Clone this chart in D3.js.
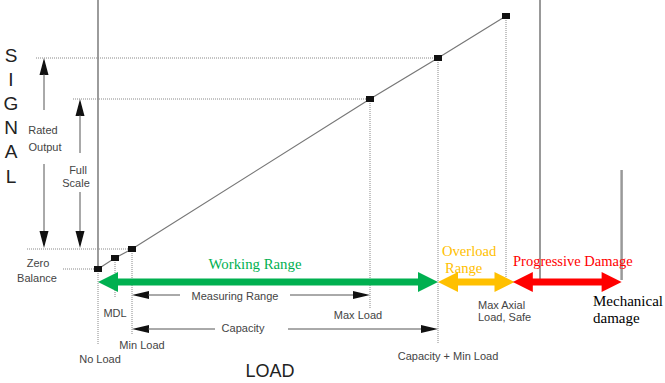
<!DOCTYPE html>
<html><head><meta charset="utf-8">
<script src="https://cdn.jsdelivr.net/npm/d3@7"></script>
<style>body{margin:0;background:#fff}svg{display:block}</style>
</head><body>
<svg id="c" width="665" height="383"></svg>
<script>
// ---- data ----
const loadLabels = ["No Load", "MDL", "Min Load", "Max Load", "Capacity + Min Load", "Max Axial Load, Safe"];
const loadValues = [0, 0.05, 0.1, 0.8, 1.0, 1.2];
const signalValues = [0, 0.55, 1.0, 8.5, 10.55, 12.65];
const ultimateLoad = 1.3;
const damageLoad = 1.54;
const rangeNames = ["Working Range", "Overload Range", "Progressive Damage"];
const rangeStarts = [0, 1.0, 1.22];
const rangeEnds = [1.0, 1.225, 1.54];
const rangeColors = ["#00b050", "#ffc000", "#ff0000"];

const svg = d3.select("#c");
const x = d3.scaleLinear().domain([0, 1]).range([98, 438]);
const y = d3.scaleLinear().domain([0, 10]).range([269, 69]);

const sans = "'Liberation Sans', Arial, sans-serif";
const serif = "'Liberation Serif', 'Times New Roman', serif";
const gray = "#444";
const lineGray = "#888";

function dotted(x1, y1, x2, y2) {
  svg.append("line").attr("x1", x1).attr("y1", y1).attr("x2", x2).attr("y2", y2)
    .attr("stroke", lineGray).attr("stroke-width", 1).attr("stroke-dasharray", "1,1");
}
function solid(x1, y1, x2, y2, c, w) {
  svg.append("line").attr("x1", x1).attr("y1", y1).attr("x2", x2).attr("y2", y2)
    .attr("stroke", c || "#555").attr("stroke-width", w || 1);
}
function head(tx, ty, dir, len, half, color) {
  let p;
  if (dir === "up") p = [[tx, ty], [tx - half, ty + len], [tx + half, ty + len]];
  if (dir === "down") p = [[tx, ty], [tx - half, ty - len], [tx + half, ty - len]];
  if (dir === "left") p = [[tx, ty], [tx + len, ty - half], [tx + len, ty + half]];
  if (dir === "right") p = [[tx, ty], [tx - len, ty - half], [tx - len, ty + half]];
  svg.append("path").attr("d", "M" + p.map(d => d.join(",")).join("L") + "Z").attr("fill", color || "#111");
}
function text(t, tx, ty, opts) {
  opts = opts || {};
  svg.append("text").attr("x", tx).attr("y", ty).attr("dy", "0.35em")
    .attr("text-anchor", opts.anchor || "middle")
    .attr("font-family", opts.family || sans)
    .attr("font-size", opts.size || 11)
    .attr("fill", opts.fill || gray)
    .text(t);
}

// axis line (signal axis at No Load)
solid(x(0), 0, x(0), y(0), "#666", 1.3);
dotted(x(0), y(0), x(0), 345);

// horizontal dotted signal levels
dotted(36, y(signalValues[4]), x(loadValues[4]), y(signalValues[4]));
dotted(73, y(signalValues[3]), x(loadValues[3]), y(signalValues[3]));
dotted(27, y(signalValues[2]), x(loadValues[2]), y(signalValues[2]));
dotted(63, y(signalValues[0]), x(loadValues[0]), y(signalValues[0]));

// vertical dotted load levels
dotted(x(loadValues[1]), y(signalValues[1]), x(loadValues[1]), 298);
dotted(x(loadValues[2]), y(signalValues[2]), x(loadValues[2]), 334);
dotted(x(loadValues[3]), y(signalValues[3]), x(loadValues[3]), 308);
dotted(x(loadValues[4]), y(signalValues[4]), x(loadValues[4]), 343);
dotted(x(loadValues[5]), y(signalValues[5]), x(loadValues[5]), 284);

// solid gray verticals
solid(x(ultimateLoad), 0, x(ultimateLoad), 280, "#999", 2);
solid(x(damageLoad), 170, x(damageLoad), 280, "#999", 2.5);

// signal curve
const pts = loadValues.map((l, i) => [x(l), y(signalValues[i])]);
svg.append("path").attr("d", d3.line()(pts)).attr("fill", "none").attr("stroke", "#777").attr("stroke-width", 1.2);
svg.selectAll("rect.pt").data(pts).enter().append("rect")
  .attr("x", d => d[0] - 4).attr("y", d => d[1] - 3).attr("width", 8).attr("height", 6).attr("fill", "#111");

// Rated Output arrow
const rx = 44;
head(rx, y(signalValues[4]), "up", 17, 4.5);
solid(rx, y(signalValues[4]) + 16, rx, 110, "#555", 1);
solid(rx, 164, rx, y(signalValues[2]) - 16, "#555", 1);
head(rx, y(signalValues[2]) - 1, "down", 17, 4.5);
text("Rated", 43, 130); text("Output", 45, 147);

// Full Scale arrow
const fx = 80;
head(fx, y(signalValues[3]), "up", 17, 4.5);
solid(fx, y(signalValues[3]) + 16, fx, 153, "#555", 1);
solid(fx, 192, fx, y(signalValues[2]) - 16, "#555", 1);
head(fx, y(signalValues[2]) - 1, "down", 17, 4.5);
text("Full", 78, 170); text("Scale", 76, 183);

text("Zero", 38, 263); text("Balance", 37, 278);

// SIGNAL letters
["S", "I", "G", "N", "A", "L"].forEach((c, i) => {
  text(c, 11, 55 + i * 24.2, { size: 19, fill: "#222" });
});

// Measuring Range
const my = 295;
head(x(loadValues[2]), my, "left", 17, 4);
solid(x(loadValues[2]) + 16, my, 180, my, "#555", 1);
text("Measuring Range", 235, my + 1);
solid(290, my, x(loadValues[3]) - 16, my, "#555", 1);
head(x(loadValues[3]), my, "right", 17, 4);

// Capacity
const cy = 329;
head(x(loadValues[2]), cy, "left", 17, 4);
solid(x(loadValues[2]) + 16, cy, 215, cy, "#555", 1);
text("Capacity", 243, cy - 1);
solid(288, cy, x(loadValues[4]) - 16, cy, "#555", 1);
head(x(loadValues[4]), cy, "right", 17, 4);

// load labels
text(loadLabels[1], 115, 313);
text(loadLabels[2], 142, 345);
text(loadLabels[0], 100, 359);
text(loadLabels[3], 358, 315);
text(loadLabels[4], 448, 356);
text("Max Axial", 478, 305, { anchor: "start" });
text("Load, Safe", 478, 317, { anchor: "start" });

text("LOAD", 270, 371, { size: 18, fill: "#222" });

// colored range arrows
const ay = 282;
rangeNames.forEach((n, i) => {
  const a = x(rangeStarts[i]), b = x(rangeEnds[i]);
  const col = rangeColors[i];
  solid(a + 15, ay, b - 15, ay, col, 7);
  head(a, ay, "left", 20, 10, col);
  head(b, ay, "right", 20, 10, col);
});
text("Working Range", 255, 264, { family: serif, size: 14.8, fill: rangeColors[0] });
text("Overload", 442, 251, { family: serif, size: 14.6, fill: rangeColors[1], anchor: "start" });
text("Range", 445, 268, { family: serif, size: 14.6, fill: rangeColors[1], anchor: "start" });
text("Progressive Damage", 513, 261, { family: serif, size: 14.5, fill: rangeColors[2], anchor: "start" });
text("Mechanical", 593, 301, { family: serif, size: 15, fill: "#000", anchor: "start" });
text("damage", 593, 318, { family: serif, size: 15, fill: "#000", anchor: "start" });
</script>
</body></html>
